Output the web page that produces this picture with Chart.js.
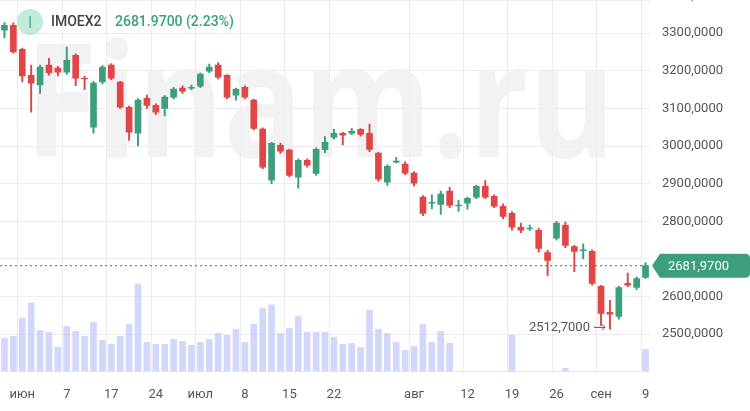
<!DOCTYPE html>
<html>
<head>
<meta charset="utf-8">
<script src="https://cdn.jsdelivr.net/npm/chart.js@4"></script>
<style>
  html, body { margin: 0; padding: 0; background: #fff; }
  #wrap { width: 750px; height: 411px; }
</style>
</head>
<body>
<div id="wrap"><canvas id="chart"></canvas></div>
<script>
// =====================================================
// DATA
// =====================================================
const opens  = [3308,3321,3257,3188,3162,3215,3207,3196,3241,3180,3050,3170,3215,3170,3103,3034,3127,3108,3100,3130,3154,3154,3159,3199,3215,3188,3135,3156,3122,3045,2909,3002,2989,2917,2962,2927,2990,3023,3034,3034,3044,3034,2981,2904,2957,2952,2928,2864,2848,2845,2880,2841,2848,2864,2893,2866,2840,2821,2784,2780,2776,2717,2755,2789,2733,2722,2720,2627,2558,2547,2635,2624,2651];
const closes = [3321,3250,3186,3167,3210,3194,3196,3228,3180,3178,3167,3210,3180,3103,3037,3122,3108,3090,3130,3151,3146,3156,3191,3210,3183,3130,3151,3130,3047,2944,3007,2986,2922,2962,2949,2991,3010,3034,3029,3039,3031,2991,2912,2946,2960,2928,2901,2821,2850,2872,2842,2843,2861,2893,2864,2840,2813,2784,2776,2782,2728,2696,2795,2736,2720,2724,2635,2555,2553,2624,2630,2648,2682];
const highs  = [3328,3327,3260,3215,3215,3233,3212,3263,3245,3186,3172,3214,3219,3172,3106,3126,3135,3112,3134,3155,3160,3162,3194,3218,3222,3190,3154,3160,3124,3048,3010,3008,2992,2966,2966,2995,3025,3044,3036,3047,3046,3058,2984,2950,2970,2958,2932,2868,2870,2880,2890,2856,2864,2896,2909,2870,2846,2826,2795,2790,2782,2723,2800,2798,2736,2740,2724,2630,2590,2628,2662,2652,2690];
const lows   = [3287,3247,3170,3090,3140,3188,3186,3190,3160,3150,3034,3165,3176,3100,3015,3000,3100,3083,3080,3125,3140,3150,3155,3195,3178,3126,3122,3125,3043,2940,2900,2980,2918,2888,2944,2922,2982,3018,3003,3030,3026,2985,2906,2895,2955,2924,2894,2815,2833,2818,2836,2826,2832,2860,2860,2836,2806,2776,2770,2775,2718,2656,2750,2730,2666,2700,2630,2523,2513,2540,2626,2618,2648];
const volumes = [33,35,53,68,41,39,24,45,40,35,49,31,27,35,47,87,29,27,27,32,30,26,29,32,38,36,42,29,47,63,66,38,43,55,39,39,39,34,27,28,24,61,42,38,29,21,25,47,29,40,28,
                 0,0,0,0,0,0,36,0,0,0,0,0,3,0,0,0,0,0,0,0,0,22];
const priceTicks = [2500,2600,2800,2900,3000,3100,3200,3300,3400];
const tickLabels = {2:'июн',7:'7',12:'17',17:'24',22:'июл',27:'8',32:'15',37:'22',46:'авг',52:'12',57:'19',62:'26',67:'сен',72:'9'};
const lastPrice = 2681.97;
const minPrice = 2512.7;

const GREEN = '#3d9e7d';
const RED = '#e04646';
const labels = opens.map((_, i) => i);
const candleColors = opens.map((o, i) => closes[i] >= o ? GREEN : RED);
const fmt = v => v.toFixed(4).replace('.', ',');

// =====================================================
// PLUGIN: watermark, header, y labels, price tag, min label
// =====================================================
const decor = {
    id: 'decor',
    beforeDatasetsDraw(chart) {
        const ctx = chart.ctx;
        ctx.save();
        ctx.font = 'bold 150px "Open Sans", sans-serif';
        const w = ctx.measureText('Finam.ru').width;
        ctx.translate(25, 157);
        ctx.scale(590 / w, 1.05);
        ctx.fillStyle = 'rgba(240,240,240,0.85)';
        ctx.fillText('Finam.ru', 0, 0);
        ctx.restore();
    },
    afterDraw(chart) {
        const ctx = chart.ctx;
        const y = chart.scales.y;
        const x = chart.scales.x;
        ctx.save();
        // y labels
        ctx.font = '13px Roboto, sans-serif';
        ctx.textBaseline = 'middle';
        ctx.fillStyle = '#555';
        priceTicks.forEach(p => ctx.fillText(fmt(p), 662, y.getPixelForValue(p)));
        // header
        ctx.fillStyle = 'rgba(120,210,170,0.45)';
        ctx.beginPath(); ctx.arc(30, 22, 13, 0, Math.PI * 2); ctx.fill();
        ctx.fillStyle = GREEN;
        ctx.fillRect(29.5, 16, 1.2, 12);
        ctx.font = '500 14px Roboto, sans-serif';
        ctx.fillStyle = '#444';
        ctx.fillText('IMOEX2', 51, 22);
        ctx.fillStyle = GREEN;
        ctx.fillText('2681.9700 (2.23%)', 115, 22);
        // dotted last-price line
        const py = y.getPixelForValue(lastPrice);
        ctx.strokeStyle = GREEN;
        ctx.setLineDash([2, 3]);
        ctx.lineWidth = 1.2;
        ctx.beginPath(); ctx.moveTo(0, py); ctx.lineTo(chart.chartArea.right, py); ctx.stroke();
        ctx.setLineDash([]);
        // price tag
        ctx.fillStyle = GREEN;
        ctx.beginPath();
        ctx.moveTo(652, py);
        ctx.lineTo(660, py - 12);
        ctx.lineTo(745, py - 12);
        ctx.quadraticCurveTo(750, py - 12, 750, py - 7);
        ctx.lineTo(750, py + 7);
        ctx.quadraticCurveTo(750, py + 12, 745, py + 12);
        ctx.lineTo(660, py + 12);
        ctx.closePath();
        ctx.fill();
        ctx.fillStyle = '#fff';
        ctx.font = '13px Roboto, sans-serif';
        ctx.fillText(fmt(lastPrice), 668, py + 1);
        // min label
        const mx = x.getPixelForValue(68);
        const my = y.getPixelForValue(minPrice) - 2;
        ctx.fillStyle = '#555';
        ctx.textAlign = 'right';
        ctx.fillText(fmt(minPrice), mx - 20, my);
        ctx.strokeStyle = '#555';
        ctx.lineWidth = 1;
        ctx.beginPath(); ctx.moveTo(mx - 16, my); ctx.lineTo(mx - 5, my);
        ctx.moveTo(mx - 8, my - 3); ctx.lineTo(mx - 5, my); ctx.lineTo(mx - 8, my + 3); ctx.stroke();
        ctx.restore();
    }
};

// =====================================================
// CHART
// =====================================================
new Chart(document.getElementById('chart'), {
    type: 'bar',
    data: {
        labels: labels,
        datasets: [
            { label: 'volume', data: volumes, yAxisID: 'v', backgroundColor: 'rgba(196,202,250,0.75)', barThickness: 6, grouped: false, order: 3 },
            { label: 'wick', data: labels.map(i => [lows[i], highs[i]]), yAxisID: 'y', backgroundColor: candleColors, barThickness: 1.3, grouped: false, order: 2 },
            { label: 'body', data: labels.map(i => [opens[i], closes[i] === opens[i] ? closes[i] + 1 : closes[i]]), yAxisID: 'y', backgroundColor: candleColors, barThickness: 6, grouped: false, order: 1, borderSkipped: false }
        ]
    },
    options: {
        responsive: true,
        maintainAspectRatio: false,
        animation: false,
        layout: { padding: { left: 0, top: 0, right: 0, bottom: -8 } },
        plugins: { legend: { display: false }, tooltip: { enabled: false } },
        scales: {
            x: {
                afterFit: (s) => { s.paddingLeft = 0; s.paddingRight = 0; },
                ticks: { autoSkip: false, maxRotation: 0, color: '#555', font: { size: 13, family: 'Roboto' }, padding: 16,
                    callback: (v) => tickLabels[v] || '' },
                grid: { color: (c) => tickLabels[c.index] !== undefined ? '#ececec' : 'rgba(0,0,0,0)', drawTicks: false },
                border: { display: false }
            },
            y: {
                position: 'right', min: 2401, max: 3388,
                afterFit: (s) => { s.width = 100; },
                ticks: { display: false, stepSize: 100 },
                grid: { color: '#ececec', drawTicks: false },
                border: { display: false }
            },
            v: { display: false, min: 0, max: 370 }
        }
    },
    plugins: [decor]
});
</script>
</body>
</html>
